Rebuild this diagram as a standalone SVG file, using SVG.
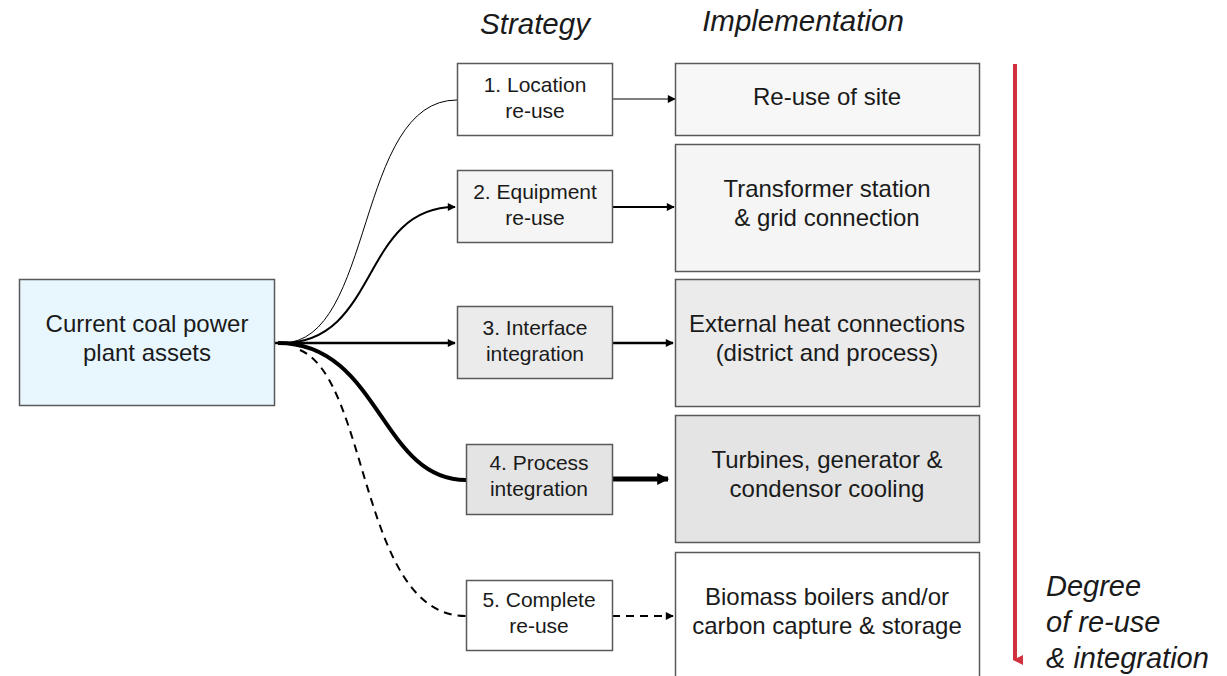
<svg xmlns="http://www.w3.org/2000/svg" width="1227" height="676" viewBox="0 0 1227 676">
<style>
text{font-family:"Liberation Sans",Arial,sans-serif;fill:#1a1a1a;text-anchor:middle}
.box{stroke:#595959;stroke-width:1.5}
.s{font-size:21px}
.i{font-size:24px}
.h{font-size:29.5px;font-style:italic}
.d{font-size:29px;font-style:italic;text-anchor:start}
.c{fill:none;stroke:#000}
</style>
<defs>
<marker id="ah" viewBox="0 0 10 10" refX="9" refY="5" markerWidth="10" markerHeight="8" markerUnits="userSpaceOnUse" orient="auto"><path d="M0,0 L10,5 L0,10 z" fill="#000"/></marker>
<marker id="ah3" viewBox="0 0 10 10" refX="9" refY="5" markerWidth="13" markerHeight="12" markerUnits="userSpaceOnUse" orient="auto"><path d="M0,0 L10,5 L0,10 z" fill="#000"/></marker>
<marker id="ahr" viewBox="0 0 10 10" refX="5" refY="8" markerWidth="10" markerHeight="10" markerUnits="userSpaceOnUse" orient="auto"><path d="M0,0 L10,0 L5,10 z" fill="#d0313d"/></marker>
</defs>
<text class="h" x="535" y="34">Strategy</text>
<text class="h" x="803" y="31">Implementation</text>
<g id="connectors">
<path class="c" stroke-width="1" d="M282,343 C375,343 355,100 457,100"/>
<path class="c" stroke-width="2" marker-end="url(#ah)" d="M282,343 C380,343 360,207 455,207"/>
<path class="c" stroke-width="2.5" marker-end="url(#ah)" d="M275,343 L455,343"/>
<path class="c" stroke-width="4" d="M278,343 C380,343 380,480 466,480"/>
<path class="c" stroke-width="2" stroke-dasharray="8,6" d="M300,350 C370,380 360,616 466,616"/>
<path class="c" stroke-width="1" marker-end="url(#ah)" d="M612,99 L675,99"/>
<path class="c" stroke-width="2" marker-end="url(#ah)" d="M612,207 L674,207"/>
<path class="c" stroke-width="2.5" marker-end="url(#ah)" d="M612,343 L673,343"/>
<path class="c" stroke-width="5" marker-end="url(#ah3)" d="M612,479 L668,479"/>
<path class="c" stroke-width="2" stroke-dasharray="8,6" marker-end="url(#ah)" d="M612,616 L673,616"/>
<path fill="none" stroke="#d0313d" stroke-width="4" marker-end="url(#ahr)" d="M1015,64 L1015,660"/>
</g>
<g id="main"><rect class="box" x="19.5" y="279.5" width="255" height="126" fill="#e8f6fe"/><text class="i" x="147" y="332">Current coal power</text><text class="i" x="147" y="361">plant assets</text></g>
<g id="s1"><rect class="box" x="457.5" y="63.5" width="155" height="72" fill="#ffffff"/><text class="s" x="535" y="92">1. Location</text><text class="s" x="535" y="118">re-use</text></g>
<g id="s2"><rect class="box" x="457.5" y="170.5" width="155" height="72" fill="#f5f5f5"/><text class="s" x="535" y="199">2. Equipment</text><text class="s" x="535" y="225">re-use</text></g>
<g id="s3"><rect class="box" x="457.5" y="306.5" width="155" height="72" fill="#ebebeb"/><text class="s" x="535" y="335">3. Interface</text><text class="s" x="535" y="361">integration</text></g>
<g id="s4"><rect class="box" x="466.5" y="444.5" width="146" height="70" fill="#e4e4e4"/><text class="s" x="539" y="470">4. Process</text><text class="s" x="539" y="496">integration</text></g>
<g id="s5"><rect class="box" x="466.5" y="580.5" width="146" height="70" fill="#ffffff"/><text class="s" x="539" y="607">5. Complete</text><text class="s" x="539" y="633">re-use</text></g>
<g id="i1"><rect class="box" x="675.5" y="63.5" width="304" height="72" fill="#f7f7f7"/><text class="i" x="827" y="105">Re-use of site</text></g>
<g id="i2"><rect class="box" x="675.5" y="144.5" width="304" height="127" fill="#f5f5f5"/><text class="i" x="827" y="197">Transformer station</text><text class="i" x="827" y="226">&amp; grid connection</text></g>
<g id="i3"><rect class="box" x="675.5" y="279.5" width="304" height="127" fill="#ebebeb"/><text class="i" x="827" y="332">External heat connections</text><text class="i" x="827" y="361">(district and process)</text></g>
<g id="i4"><rect class="box" x="675.5" y="415.5" width="304" height="127" fill="#e4e4e4"/><text class="i" x="827" y="468">Turbines, generator &amp;</text><text class="i" x="827" y="497">condensor cooling</text></g>
<g id="i5"><rect class="box" x="675.5" y="552.5" width="304" height="130" fill="#ffffff"/><text class="i" x="827" y="605">Biomass boilers and/or</text><text class="i" x="827" y="634">carbon capture &amp; storage</text></g>
<g id="degree"><text class="d" x="1046" y="596">Degree</text><text class="d" x="1046" y="632">of re-use</text><text class="d" x="1046" y="668">&amp; integration</text></g>
</svg>
